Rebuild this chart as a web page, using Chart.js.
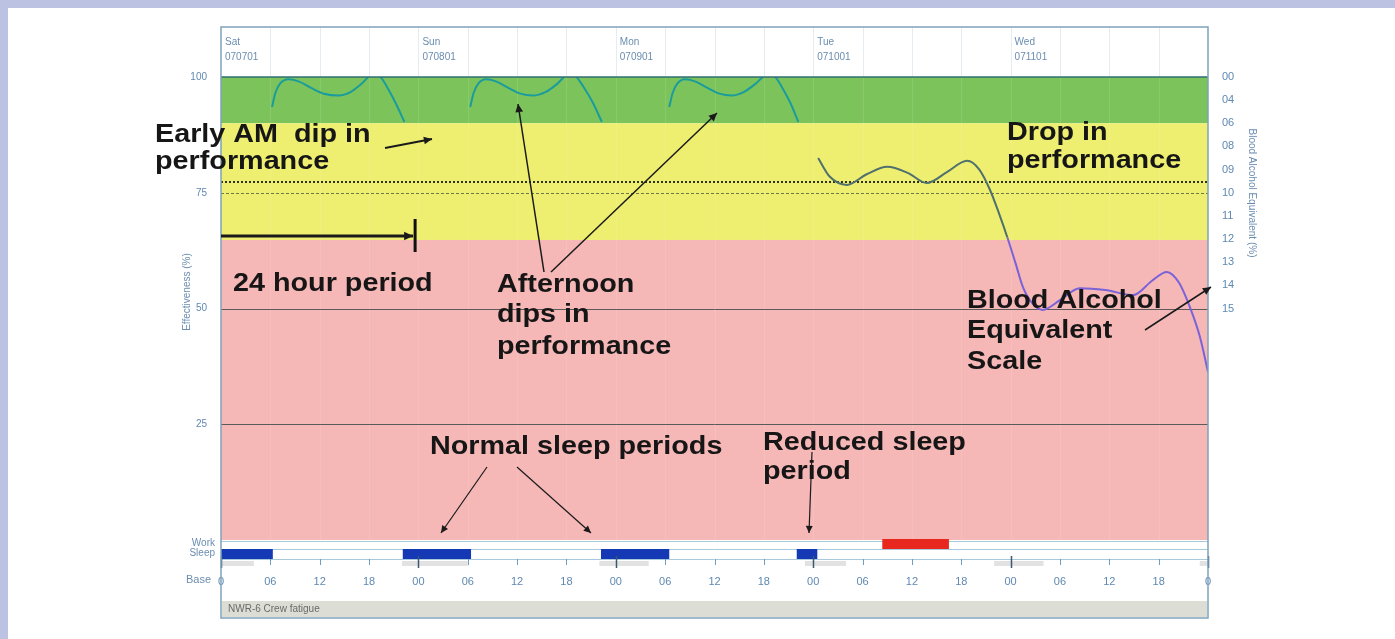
<!DOCTYPE html>
<html><head><meta charset="utf-8">
<script src="https://cdn.jsdelivr.net/npm/chart.js@4.4.0/dist/chart.umd.min.js"></script>
<style>html,body{margin:0;padding:0;background:#fff;overflow:hidden}canvas{display:block}</style>
</head><body>
<canvas id="c" width="1395" height="639"></canvas>
<script>
// ---- data ----
const dayNames = ['Sat','Sun','Mon','Tue','Wed'];
const dayCodes = ['070701','070801','070901','071001','071101'];
const dayStartHours = [0,24,48,72,96];
const effTickValues = [25,50,75,100];
const baeTickValues = [100,95,90,85,80,75,70,65,60,55,50];
const baeTickLabels = ['00','04','06','08','09','10','11','12','13','14','15'];
const zoneTop = [100,90,64.8];
const zoneBottom = [90,64.8,0];
const refSolid = [25,50];
const criterionLine = 75;
const dottedLine = 77.3;
const effHours = [
  6.2,6.6,7.2,8.2,9.5,11.0,12.5,14.3,15.8,17.0,18.5,19.3,20.2,21.2,22.3, 22.5,
  30.3,30.7,31.3,32.2,33.5,35.0,36.4,37.9,39.5,40.8,42.3,43.1,44.1,45.2,46.3, 46.5,
  54.5,54.9,55.5,56.4,57.7,59.2,60.6,62.1,63.6,64.9,66.5,67.3,68.2,69.2,70.2, 70.5,
  72.6,74.0,76.1,78.5,81.0,83.5,85.8,88.3,90.7,92.2,93.5,94.6,95.6,96.6,97.5,98.6,99.9,102.0,104.4,107.5,110.9,113.2,115.0,116.5,117.8,119.0,120
];
const effValues = [
  93.5,96.5,98.6,99.5,99.0,97.6,96.4,96.0,96.8,98.4,100.6,100.2,97.8,94.5,90.3, null,
  93.5,96.5,98.6,99.5,99.0,97.6,96.4,96.0,96.8,98.4,100.6,100.2,97.8,94.5,90.3, null,
  93.5,96.5,98.6,99.5,99.0,97.6,96.4,96.0,96.8,98.4,100.6,100.2,97.8,94.5,90.3, null,
  82.5,78.5,76.7,79.0,80.6,79.3,77.1,79.5,81.9,80.0,75.6,70.5,65.4,59.8,54.6,51.2,49.7,51.8,54.4,54.0,52.9,56.0,57.9,55.5,50.3,44.0,36.3
];
const sleepStart = [0,22.1,46.2,70.0];
const sleepEnd = [6.3,30.4,54.5,72.5];
const workStart = [80.4];
const workEnd = [88.5];
const baseStart = [0,22,46,71,94,119];
const baseEnd = [4,30,52,76,100,120];

// ---- styles ----
const zoneColors = ['#7dc35c','#eeef70','#f6b7b7'];
const axisBlue = '#5f88b2';
const FONT = 'Liberation Sans';

function arrow(ctx,x1,y1,x2,y2,lw,hs){
  ctx.save();
  ctx.strokeStyle='#1a1a1a'; ctx.fillStyle='#1a1a1a'; ctx.lineWidth=lw;
  ctx.beginPath(); ctx.moveTo(x1,y1); ctx.lineTo(x2,y2); ctx.stroke();
  const a=Math.atan2(y2-y1,x2-x1);
  ctx.beginPath(); ctx.moveTo(x2,y2);
  ctx.lineTo(x2-hs*Math.cos(a-0.45),y2-hs*Math.sin(a-0.45));
  ctx.lineTo(x2-hs*Math.cos(a+0.45),y2-hs*Math.sin(a+0.45));
  ctx.closePath(); ctx.fill();
  ctx.restore();
}
function bigText(ctx,str,x,y){
  ctx.save(); ctx.translate(x,y); ctx.scale(1.15,1);
  ctx.fillText(str,0,0); ctx.restore();
}

const bgPlugin = {
  id:'bg',
  beforeDraw(chart){
    const {ctx, chartArea:a, scales:{x,y}} = chart;
    ctx.save();
    ctx.fillStyle='#fff'; ctx.fillRect(0,0,chart.width,chart.height);
    ctx.fillStyle='#bcc3e2'; ctx.fillRect(0,0,chart.width,8); ctx.fillRect(0,0,8,chart.height);
    for(let i=0;i<zoneTop.length;i++){
      const t=y.getPixelForValue(zoneTop[i]), b=y.getPixelForValue(zoneBottom[i]);
      ctx.fillStyle=zoneColors[i]; ctx.fillRect(a.left,t,a.right-a.left,b-t);
    }
    ctx.strokeStyle='rgba(255,255,255,0.1)'; ctx.lineWidth=1;
    for(let h=6;h<120;h+=6){
      const px=Math.round(x.getPixelForValue(h))+0.5;
      ctx.beginPath(); ctx.moveTo(px,a.top); ctx.lineTo(px,a.bottom); ctx.stroke();
    }
    const top=27;
    ctx.strokeStyle='rgba(170,195,215,0.3)';
    for(let h=6;h<120;h+=6){
      const px=Math.round(x.getPixelForValue(h))+0.5;
      ctx.beginPath(); ctx.moveTo(px,top); ctx.lineTo(px,a.top); ctx.stroke();
    }
    // footer + rows background
    ctx.fillStyle='#dcddd4'; ctx.fillRect(a.left+1,601,a.right-a.left-2,16);
    ctx.restore();
  },
  beforeDatasetsDraw(chart){
    const {ctx, chartArea:a, scales:{y}} = chart;
    ctx.save();
    ctx.strokeStyle='#5a5a5a'; ctx.lineWidth=1;
    refSolid.forEach(v=>{
      const py=Math.round(y.getPixelForValue(v))+0.5;
      ctx.beginPath(); ctx.moveTo(a.left,py); ctx.lineTo(a.right,py); ctx.stroke();
    });
    let py=Math.round(y.getPixelForValue(criterionLine))+0.5;
    ctx.strokeStyle='#6b7a45'; ctx.setLineDash([3,2]);
    ctx.beginPath(); ctx.moveTo(a.left,py); ctx.lineTo(a.right,py); ctx.stroke();
    py=Math.round(y.getPixelForValue(dottedLine));
    ctx.strokeStyle='#2e3320'; ctx.lineWidth=2; ctx.setLineDash([2,2]);
    ctx.beginPath(); ctx.moveTo(a.left,py); ctx.lineTo(a.right,py); ctx.stroke();
    ctx.restore();
  },
  afterDraw(chart){
    const {ctx, chartArea:a, scales:{x,y}} = chart;
    ctx.save();
    const top=27, bottom=618;
    ctx.fillStyle='#6b8db0'; ctx.font='10px "'+FONT+'"'; ctx.textBaseline='middle'; ctx.textAlign='left';
    dayNames.forEach((d,i)=>{
      const px=x.getPixelForValue(dayStartHours[i])+4;
      ctx.fillText(d,px,42); ctx.fillText(dayCodes[i],px,57);
    });
    ctx.strokeStyle='#2f6f70'; ctx.lineWidth=1.5;
    ctx.beginPath(); ctx.moveTo(a.left,a.top); ctx.lineTo(a.right,a.top); ctx.stroke();
    // rows
    ctx.strokeStyle='#a8c8dc'; ctx.lineWidth=1;
    [a.bottom+1.5,549.5,559.5].forEach(py=>{ctx.beginPath();ctx.moveTo(a.left,py);ctx.lineTo(a.right,py);ctx.stroke();});
    ctx.fillStyle='#e2e2e2';
    baseStart.forEach((s,i)=>{const x0=x.getPixelForValue(s),x1=x.getPixelForValue(baseEnd[i]);ctx.fillRect(x0,561,x1-x0,5);});
    ctx.fillStyle='#e8281e';
    workStart.forEach((s,i)=>{const x0=x.getPixelForValue(s),x1=x.getPixelForValue(workEnd[i]);ctx.fillRect(x0,539,x1-x0,10);});
    ctx.fillStyle='#1539b5';
    sleepStart.forEach((s,i)=>{const x0=x.getPixelForValue(s),x1=x.getPixelForValue(sleepEnd[i]);ctx.fillRect(x0,549,x1-x0,10);});
    for(let h=0;h<=120;h+=6){
      const px=Math.round(x.getPixelForValue(h))+0.5;
      const day=h%24===0;
      ctx.strokeStyle=day?'#3a5870':'#6f9dc2'; ctx.lineWidth=day?1.5:1;
      ctx.beginPath(); ctx.moveTo(px,day?556:559); ctx.lineTo(px,day?568:565); ctx.stroke();
    }
    ctx.fillStyle='#6a6a6a'; ctx.font='10px "'+FONT+'"'; ctx.textAlign='left';
    ctx.fillText('NWR-6 Crew fatigue',a.left+7,609);
    ctx.strokeStyle='#7fa2bb'; ctx.lineWidth=1.5;
    ctx.strokeRect(a.left,top,a.right-a.left,bottom-top);
    ctx.fillStyle='#6b8db0'; ctx.textAlign='right'; ctx.font='10px "'+FONT+'"';
    ctx.fillText('Work',215,543); ctx.fillText('Sleep',215,553);
    ctx.font='11px "'+FONT+'"'; ctx.fillText('Base',211,580);
    ctx.textAlign='center'; ctx.font='10px "'+FONT+'"';
    ctx.save(); ctx.translate(187,292); ctx.rotate(-Math.PI/2); ctx.fillText('Effectiveness (%)',0,0); ctx.restore();
    ctx.save(); ctx.translate(1252,193); ctx.rotate(Math.PI/2); ctx.fillText('Blood Alcohol Equivalent (%)',0,0); ctx.restore();
    // annotations
    ctx.fillStyle='#161616'; ctx.textAlign='left'; ctx.textBaseline='middle';
    ctx.font='bold 25px "'+FONT+'"';
    bigText(ctx,'Early AM  dip in',155,135);
    bigText(ctx,'performance',155,162);
    bigText(ctx,'Drop in',1007,133);
    bigText(ctx,'performance',1007,161);
    bigText(ctx,'24 hour period',233,284);
    bigText(ctx,'Afternoon',497,285);
    bigText(ctx,'dips in',497,315);
    bigText(ctx,'performance',497,347);
    bigText(ctx,'Blood Alcohol',967,301);
    bigText(ctx,'Equivalent',967,331);
    bigText(ctx,'Scale',967,362);
    bigText(ctx,'Normal sleep periods',430,447);
    bigText(ctx,'Reduced sleep',763,443);
    bigText(ctx,'period',763,472);
    arrow(ctx,385,148,432,139,2,9);
    arrow(ctx,544,272,518,104,1.5,9);
    arrow(ctx,551,272,717,113,1.5,9);
    arrow(ctx,1145,330,1211,287,1.5,9);
    arrow(ctx,487,467,441,533,1.2,8);
    arrow(ctx,517,467,591,533,1.2,8);
    arrow(ctx,812,452,809,533,1.2,8);
    const x24=x.getPixelForValue(23.6);
    arrow(ctx,a.left,236,x24-2,236,3,10);
    ctx.strokeStyle='#111'; ctx.lineWidth=3;
    ctx.beginPath(); ctx.moveTo(x24,219); ctx.lineTo(x24,252); ctx.stroke();
    ctx.restore();
  }
};

const tickFont = {family:FONT, size:10};
new Chart(document.getElementById('c'), {
  type:'line',
  data:{datasets:[{
    data: effHours.map((h,i)=>({x:h,y:effValues[i]})),
    borderWidth:2, pointRadius:0, fill:false, spanGaps:false,
    cubicInterpolationMode:'monotone', borderColor:'#1b9c9c',
    segment:{borderColor:c=>{const m=(c.p0.parsed.y+c.p1.parsed.y)/2; return m>=90?'#1b9c9c':(m>=64.8?'#50706e':'#7a62d8');}},
    yAxisID:'y'
  }]},
  options:{
    responsive:false, animation:false, devicePixelRatio:1,
    layout:{padding:{top:77,left:0,right:0,bottom:0}},
    plugins:{legend:{display:false}, tooltip:{enabled:false}},
    scales:{
      x:{type:'linear', min:0, max:120, grid:{display:false, drawTicks:false}, border:{display:false},
        ticks:{stepSize:6, padding:35, autoSkip:false, maxRotation:0, color:axisBlue, font:{family:FONT,size:11},
          callback:v=> (v===0||v===120)?'0':String(v%24).padStart(2,'0')},
        afterFit(s){s.height=99;}},
      y:{min:0, max:100, position:'left', grid:{display:false, drawTicks:false}, border:{display:false},
        ticks:{stepSize:25, padding:14, color:axisBlue, font:tickFont, callback:v=>effTickValues.includes(v)?String(v):''},
        afterFit(s){s.width=221;}},
      y2:{min:0, max:100, position:'right', grid:{display:false, drawTicks:false}, border:{display:false},
        ticks:{stepSize:5, padding:14, autoSkip:false, color:axisBlue, font:{family:FONT,size:11},
          callback:v=>{const i=baeTickValues.indexOf(v); return i>=0?baeTickLabels[i]:'';}},
        afterFit(s){s.width=187;}}
    }
  },
  plugins:[bgPlugin]
});
</script>
</body></html>
